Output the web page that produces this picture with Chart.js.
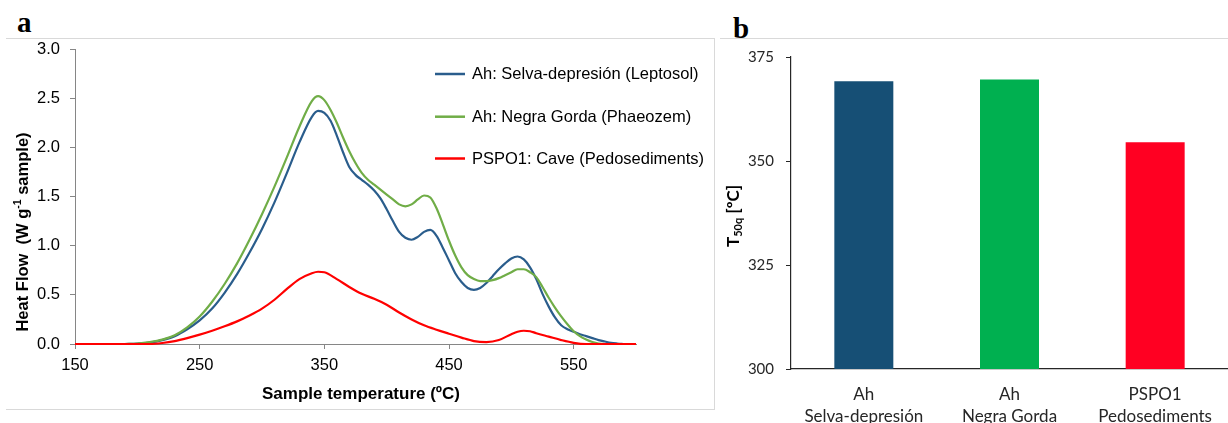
<!DOCTYPE html>
<html>
<head>
<meta charset="utf-8">
<script src="https://cdn.jsdelivr.net/npm/chart.js@4"></script>
<style>
  body { margin:0; background:#fff; }
  #wrap { position:relative; width:1228px; height:423px; overflow:hidden; background:#fff; }
  .lab { position:absolute; font-family:"Liberation Serif","DejaVu Serif",serif; font-weight:bold; font-size:29px; line-height:29px; color:#000; }
  .ln { position:absolute; background:#d9d9d9; }
  .box { position:absolute; }
</style>
</head>
<body>
<div id="wrap">
  <div class="lab" style="left:17px;top:8px;">a</div>
  <div class="lab" style="left:733px;top:14px;">b</div>
  <div class="ln" style="left:6px;top:38px;width:709px;height:1px;"></div>
  <div class="ln" style="left:714px;top:38px;width:1px;height:372px;"></div>
  <div class="ln" style="left:6px;top:409px;width:709px;height:1px;"></div>
  <div class="ln" style="left:720px;top:38px;width:508px;height:1px;"></div>
  <div class="box" style="left:6px;top:39px;width:708px;height:370px;"><canvas id="ca"></canvas></div>
  <div class="box" style="left:720px;top:39px;width:508px;height:384px;"><canvas id="cb"></canvas></div>
</div>
<script>
// ---------- Panel a data ----------
const temps = [190,200,210,220,230,240,250,260,270,280,290,300,310,320,330,340,
  345,350,355,360,365,370,375,380,385,390,395,400,405,410,415,420,425,430,435,440,
  445,450,455,460,465,470,475,480,485,490,495,500,505,510,515,520,525,530,535,540,
  545,550,555,560,565,570,575,580,585,590];
const selvaFlow = [0,0.005,0.015,0.04,0.08,0.15,0.24,0.36,0.52,0.71,0.93,1.17,1.44,1.74,2.05,2.31,
  2.37,2.35,2.27,2.12,1.95,1.80,1.72,1.67,1.62,1.56,1.48,1.37,1.25,1.14,1.08,1.06,1.09,1.14,1.16,1.10,
  0.98,0.85,0.72,0.63,0.57,0.55,0.57,0.62,0.69,0.76,0.82,0.87,0.89,0.86,0.78,0.66,0.51,0.38,0.27,0.19,
  0.15,0.125,0.10,0.08,0.06,0.04,0.025,0.012,0.005,0];
const negraFlow = [0,0.005,0.02,0.045,0.09,0.17,0.28,0.43,0.61,0.82,1.06,1.32,1.60,1.90,2.21,2.47,
  2.52,2.48,2.38,2.25,2.1,1.96,1.84,1.74,1.67,1.62,1.57,1.52,1.47,1.42,1.40,1.42,1.47,1.51,1.49,1.38,
  1.22,1.05,0.9,0.78,0.70,0.66,0.64,0.64,0.65,0.67,0.70,0.73,0.76,0.76,0.73,0.68,0.58,0.47,0.37,0.28,
  0.2,0.13,0.08,0.045,0.02,0.005,0,0,0,0];
const caveTemps = [150,170,190,210,220,230,240,250,260,270,280,290,300,310,320,330,340,345,350,
  360,370,380,390,400,410,420,430,440,450,460,470,480,490,500,505,510,515,520,530,540,550,560,580,600];
const caveFlow = [0,0,0,0,0.01,0.03,0.06,0.095,0.135,0.18,0.23,0.29,0.36,0.45,0.56,0.66,0.72,0.735,0.73,
  0.66,0.58,0.51,0.46,0.40,0.32,0.25,0.19,0.145,0.105,0.065,0.03,0.02,0.04,0.1,0.125,0.135,0.13,0.11,0.075,0.04,0.012,0,0,0];
const tempTicks = [150,250,350,450,550];
const seriesLabels = ['Ah: Selva-depresión (Leptosol)','Ah: Negra Gorda (Phaeozem)','PSPO1: Cave (Pedosediments)'];
const seriesColors = ['#2a5d8c','#70ad47','#ff0000'];

// ---------- Panel b data ----------
const barCategories = [['Ah','Selva-depresión'],['Ah','Negra Gorda'],['PSPO1','Pedosediments']];
const t50qValues = [369.2, 369.6, 354.5];
const barColors = ['#164f75','#00b050','#ff0022'];

const SANS = '"Liberation Sans", Arial, sans-serif';
const CAL = 'Lato, "Open Sans", sans-serif';

function pts(xs, ys) { return xs.map((x, i) => ({x: x, y: ys[i]})); }

function drawRich(ctx, parts, cx, cy, rot, color) {
  ctx.save();
  ctx.translate(cx, cy);
  ctx.rotate(rot);
  ctx.textAlign = 'left';
  ctx.textBaseline = 'alphabetic';
  ctx.fillStyle = color;
  let total = 0;
  parts.forEach(p => { ctx.font = p.font; p.w = ctx.measureText(p.t).width; total += p.w; });
  let x = -total / 2;
  parts.forEach(p => { ctx.font = p.font; ctx.fillText(p.t, x, p.dy); x += p.w; });
  ctx.restore();
}

const noPadY = s => { s.paddingTop = 0; s.paddingBottom = 0; };
const noPadX = s => { s.paddingLeft = 0; s.paddingRight = 0; };

const panelAExtras = {
  id: 'panelAExtras',
  afterDraw(chart) {
    const ctx = chart.ctx;
    drawRich(ctx, [
      {t: 'Heat Flow  (W g', font: 'bold 16.5px ' + SANS, dy: 6},
      {t: '-1', font: 'bold 10.5px ' + SANS, dy: -1},
      {t: ' sample)', font: 'bold 16.5px ' + SANS, dy: 6}
    ], 16, 193, -Math.PI / 2, '#000');
    drawRich(ctx, [
      {t: 'Sample temperature (ºC)', font: 'bold 17px ' + SANS, dy: 6}
    ], 355, 354, 0, '#000');
    const ys = [35, 77.7, 119.5];
    chart.data.datasets.forEach((ds, i) => {
      ctx.save();
      ctx.strokeStyle = ds.borderColor;
      ctx.lineWidth = 2.5;
      ctx.beginPath();
      ctx.moveTo(429, ys[i]);
      ctx.lineTo(459, ys[i]);
      ctx.stroke();
      ctx.fillStyle = '#000';
      ctx.font = '16.5px ' + SANS;
      ctx.textBaseline = 'middle';
      ctx.textAlign = 'left';
      ctx.fillText(ds.label, 466, ys[i] + 0.5);
      ctx.restore();
    });
  }
};

new Chart(document.getElementById('ca'), {
  type: 'line',
  data: {
    datasets: [
      {label: seriesLabels[0], data: pts(temps, selvaFlow), borderColor: seriesColors[0], order: 3},
      {label: seriesLabels[1], data: pts(temps, negraFlow), borderColor: seriesColors[1], order: 2},
      {label: seriesLabels[2], data: pts(caveTemps, caveFlow), borderColor: seriesColors[2], order: 1}
    ].map(d => Object.assign(d, {borderWidth: 2.2, pointRadius: 0, fill: false, clip: 4, cubicInterpolationMode: 'monotone'}))
  },
  options: {
    responsive: true,
    maintainAspectRatio: false,
    animation: false,
    devicePixelRatio: 1,
    layout: {padding: {top: 10, right: 78, left: 0, bottom: 0}},
    plugins: {legend: {display: false}, tooltip: {enabled: false}},
    scales: {
      x: {
        type: 'linear', min: 150, max: 600,
        ticks: {color: '#000', font: {family: SANS, size: 16.5}, padding: 7, maxRotation: 0},
        afterBuildTicks: s => { s.ticks = tempTicks.map(v => ({value: v})); },
        grid: {drawOnChartArea: false, drawTicks: true, tickLength: 5, color: '#868686'},
        border: {color: '#868686', width: 1},
        afterFit: s => { s.height = 65; noPadX(s); }
      },
      y: {
        min: 0, max: 3,
        ticks: {stepSize: 0.5, color: '#000', font: {family: SANS, size: 16.5}, padding: 10,
          callback: v => Number(v).toFixed(1)},
        grid: {drawOnChartArea: false, drawTicks: true, tickLength: 5, color: '#868686'},
        border: {color: '#868686', width: 1},
        afterFit: s => { s.width = 69; noPadY(s); }
      }
    }
  },
  plugins: [panelAExtras]
});

const panelBExtras = {
  id: 'panelBExtras',
  afterDraw(chart) {
    drawRich(chart.ctx, [
      {t: 'T', font: 'bold 17px ' + CAL, dy: 6},
      {t: '50q', font: 'bold 11px ' + CAL, dy: 9},
      {t: ' [ºC]', font: 'bold 17px ' + CAL, dy: 6}
    ], 13, 177, -Math.PI / 2, '#000');
  }
};

new Chart(document.getElementById('cb'), {
  type: 'bar',
  data: {
    labels: barCategories,
    datasets: [{
      label: 'T50q',
      data: t50qValues,
      backgroundColor: barColors,
      borderWidth: 0,
      categoryPercentage: 1,
      barPercentage: 0.405
    }]
  },
  options: {
    responsive: true,
    maintainAspectRatio: false,
    animation: false,
    devicePixelRatio: 1,
    layout: {padding: {top: 18, right: 0, left: 0, bottom: 0}},
    plugins: {legend: {display: false}, tooltip: {enabled: false}},
    scales: {
      x: {
        ticks: {color: '#262626', font: {family: CAL, size: 17, lineHeight: 1.3}, padding: 14, maxRotation: 0, autoSkip: false},
        grid: {display: false, drawTicks: false},
        border: {color: '#262626', width: 1.2},
        afterFit: s => { s.height = 54; noPadX(s); }
      },
      y: {
        min: 300, max: 375,
        ticks: {stepSize: 25, color: '#262626', font: {family: CAL, size: 15}, padding: 12},
        grid: {drawOnChartArea: false, drawTicks: true, tickLength: 5, color: '#262626'},
        border: {color: '#262626', width: 1.2},
        afterFit: s => { s.width = 71; noPadY(s); }
      }
    }
  },
  plugins: [panelBExtras]
});
</script>
</body>
</html>
